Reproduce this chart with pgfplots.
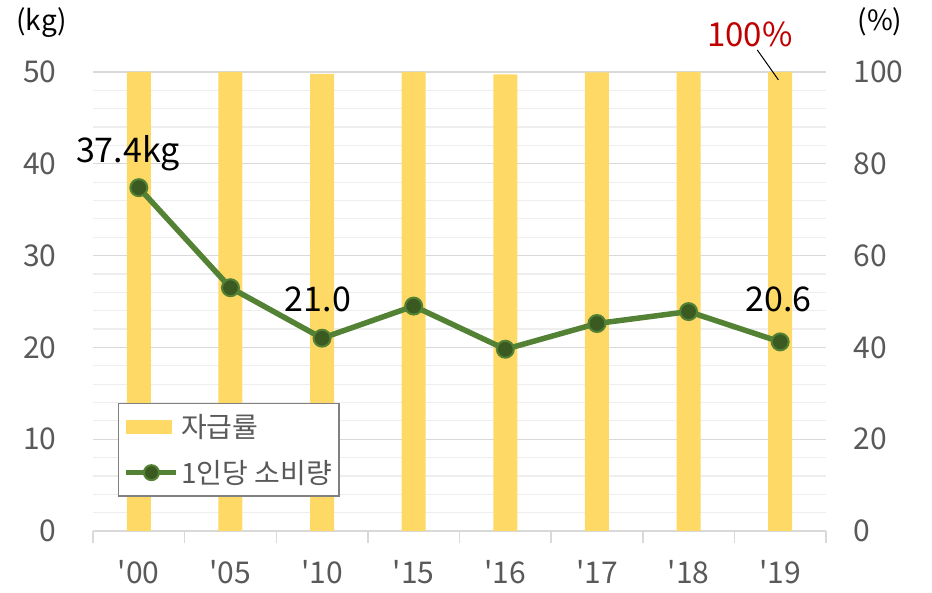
\documentclass[border=0pt]{standalone}
\usepackage{fontspec}
\setmainfont{Noto Sans CJK KR}
\newfontfamily\kr{Noto Sans CJK KR}
\usepackage{pgfplots}
\pgfplotsset{compat=1.18}
\definecolor{barc}{HTML}{FFD966}
\definecolor{linec}{HTML}{548235}
\definecolor{markc}{HTML}{3A5A22}
\definecolor{tickc}{HTML}{595959}
\definecolor{gridmaj}{HTML}{D9D9D9}
\definecolor{gridmin}{HTML}{EEEEEE}
\definecolor{redc}{HTML}{C00000}
\pgfplotsset{
  barleg/.style={legend image code/.code={\fill[##1] (0pt,-7pt) rectangle (46pt,7pt);}},
  lineleg/.style={legend image code/.code={\draw[mark repeat=2, mark phase=2, mark size=7.5pt, ##1]
        plot coordinates {(0pt,0pt) (25pt,0pt) (50pt,0pt)};}},
}

\begin{document}
\begin{tikzpicture}
\useasboundingbox (0,0) rectangle (932pt,593pt);
\pgfplotsset{base/.style={
    at={(93pt,62pt)}, anchor=south west,
    scale only axis, width=733pt, height=459pt,
    xmin=-0.5, xmax=7.5, clip=false,
    /pgf/number format/assume math mode=true,
    tick label style={font=\kr\fontsize{30}{32}\selectfont, text=tickc},
}}

% bars: self-sufficiency rate (right axis, %)
\begin{axis}[base,
    ymin=0, ymax=100,
    axis x line*=bottom, axis y line*=right,
    y axis line style={draw=none},
    x axis line style={gridmaj, line width=1.5pt, -},
    ytick={0,20,...,100}, minor y tick num=4,
    ymajorgrids, yminorgrids,
    major grid style={gridmaj, line width=1.2pt},
    minor grid style={gridmin, line width=1.2pt},
    y tick style={draw=none},
    yticklabel style={anchor=west, xshift=24pt},
    xtick={0,...,7},
    xticklabels={{'00},{'05},{'10},{'15},{'16},{'17},{'18},{'19}},
    xtick style={draw=none},
    xticklabel style={yshift=-26pt},
    extra x ticks={-0.5,0.5,...,7.5},
    extra x tick labels={},
    extra x tick style={grid=none, tick align=outside, major tick length=12pt,
        xtick style={draw=gridmaj, line width=1.5pt}},
]
\addplot[ybar, bar width=24pt, fill=barc, draw=none] coordinates {
    (0,100) (1,100) (2,99.6) (3,100) (4,99.5) (5,99.9) (6,100) (7,100)
};
\draw[black, line width=1pt] (axis cs:6.75,104.8) -- (axis cs:6.98,98.3);
\node[text=redc, font=\kr\fontsize{33}{35}\selectfont] at (axis cs:6.67,108.2) {100\%};
\node[text=black, font=\kr\fontsize{28}{30}\selectfont] at (axis cs:8.09,110.9) {(\%)};
\end{axis}

% line: per-capita consumption (left axis, kg)
\begin{axis}[base,
    ymin=0, ymax=50,
    axis y line*=left, hide x axis,
    y axis line style={draw=none},
    y tick style={draw=none},
    ytick={0,10,...,50},
    yticklabel style={anchor=east, xshift=-33pt},
    legend style={at={(rel axis cs:0.034,0.279)}, anchor=north west,
        draw=gray, line width=1.5pt, fill=white,
        font=\kr\fontsize{28}{30}\selectfont, text=tickc,
        inner xsep=5pt, inner ysep=9pt,
        row sep=17pt},
    legend cell align=left,
]
\addlegendimage{fill=barc, draw=none, barleg}
\addlegendentry{자급률}
\addplot[linec, line width=5.5pt, mark=*, mark size=8.5pt,
    mark options={fill=markc, draw=linec, line width=2pt}, lineleg]
    coordinates {
    (0,37.4) (1,26.5) (2,21.0) (3,24.5) (4,19.8) (5,22.6) (6,23.9) (7,20.6)
};
\addlegendentry{1인당 소비량}
\node[font=\kr\fontsize{34}{36}\selectfont] at (axis cs:-0.12,41.2) {37.4kg};
\node[font=\kr\fontsize{34}{36}\selectfont] at (axis cs:1.955,25.2) {21.0};
\node[font=\kr\fontsize{34}{36}\selectfont] at (axis cs:6.98,25.2) {20.6};
\node[font=\kr\fontsize{28}{30}\selectfont] at (axis cs:-1.06,55.4) {(kg)};
\end{axis}
\end{tikzpicture}
\end{document}
